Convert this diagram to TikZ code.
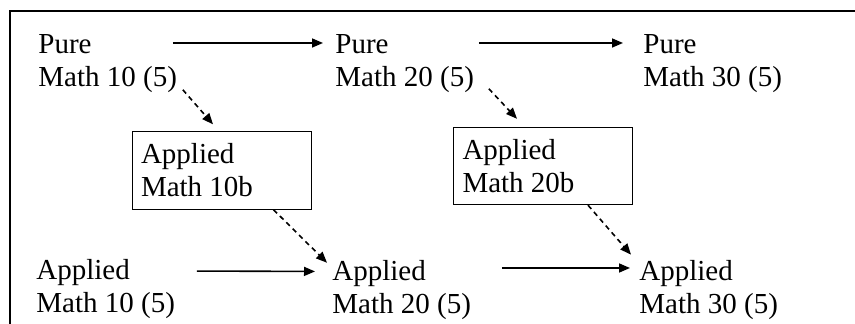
\documentclass[tikz,border=0pt]{standalone}
\usepackage{fontspec}
\setmainfont{Liberation Serif}
\usetikzlibrary{arrows.meta}

\begin{document}
\begin{tikzpicture}[
  x=0.5pt, y=-0.5pt,
  font=\fontsize{14.5}{16.5}\selectfont,
  course/.style={anchor=west, inner sep=0pt, align=left},
  bridge/.style={draw=black, line width=0.5pt, text width=80.5pt,
    inner xsep=4.5pt, inner ysep=6pt, minimum height=38.5pt, align=flush left},
  flow/.style={-{Triangle[length=5.5pt,width=4.5pt]}, line width=0.8pt},
  optional/.style={flow, dash pattern=on 2.5pt off 2pt},
  frame/.style={line width=1pt}
]
  \useasboundingbox (0,0) rectangle (855,324);
  \draw[frame] (9.5,324) -- (9.5,11) -- (855,11);

  % pure stream
  \node[course] (pureTen) at (38,63.5) {Pure\\Math 10 (5)};
  \node[course] (pureTwenty) at (335,63.5) {Pure\\Math 20 (5)};
  \node[course] (pureThirty) at (643,63.5) {Pure\\Math 30 (5)};

  % applied stream
  \node[course] (appTen) at (36,289.5) {Applied\\Math 10 (5)};
  \node[course] (appTwenty) at (332,290) {Applied\\Math 20 (5)};
  \node[course] (appThirty) at (639,290.5) {Applied\\Math 30 (5)};

  % bridging courses
  \node[bridge] (bridgeTen) at (221.5,170.5) {Applied\\Math 10b};
  \node[bridge] (bridgeTwenty) at (543,166) {Applied\\Math 20b};

  \draw[flow, shorten <=-2.25pt, shorten >=6pt]
    ([yshift=10.25pt]pureTen.east) -- ([yshift=10.25pt]pureTwenty.west);
  \draw[flow, shorten <=2.25pt, shorten >=10pt]
    ([yshift=10.25pt]pureTwenty.east) -- ([yshift=10.25pt]pureThirty.west);
  \draw[flow, shorten <=10.75pt, shorten >=8.5pt]
    ([yshift=9.25pt]appTen.east) -- ([yshift=9.25pt]appTwenty.west);
  \draw[flow, shorten <=15.25pt, shorten >=4.5pt]
    ([yshift=11pt]appTwenty.east) -- ([yshift=11.25pt]appThirty.west);

  \draw[optional] ([shift={(2.75pt,1.6pt)}]pureTen.south east)
    -- ([shift={(-4.25pt,3.5pt)}]bridgeTen.north);
  \draw[optional] ([shift={(7.25pt,2.1pt)}]pureTwenty.south east)
    -- ([shift={(-13pt,4pt)}]bridgeTwenty.north);
  \draw[optional] ([xshift=-19pt]bridgeTen.south east)
    -- ([shift={(-2.5pt,-1.4pt)}]appTwenty.north west);
  \draw[optional] ([xshift=-22.5pt]bridgeTwenty.south east)
    -- ([shift={(-4pt,2.9pt)}]appThirty.north west);
\end{tikzpicture}
\end{document}
